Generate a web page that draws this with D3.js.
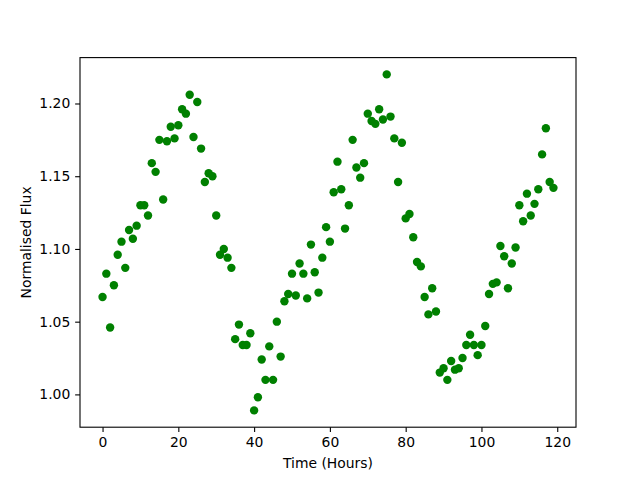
<!DOCTYPE html>
<html>
<head>
<meta charset="utf-8">
<script src="https://cdn.jsdelivr.net/npm/d3@7"></script>
<style>
  body { margin: 0; background: #fff; }
  text { font-family: "DejaVu Sans", sans-serif; }
</style>
</head>
<body>
<script>

// hours 0..119, one reading per hour
var hours = d3.range(0, 120);

var flux = [
  1.067, 1.083, 1.046, 1.075, 1.096, 1.105, 1.087, 1.113, 1.107, 1.116,
  1.130, 1.130, 1.123, 1.159, 1.153, 1.175, 1.134, 1.174, 1.184, 1.176,
  1.185, 1.196, 1.193, 1.206, 1.177, 1.201, 1.169, 1.146, 1.152, 1.150,
  1.123, 1.096, 1.100, 1.094, 1.087, 1.038, 1.048, 1.034, 1.034, 1.042,
  0.989, 0.998, 1.024, 1.010, 1.033, 1.010, 1.050, 1.026, 1.064, 1.069,
  1.083, 1.068, 1.090, 1.083, 1.066, 1.103, 1.084, 1.070, 1.094, 1.115,
  1.105, 1.139, 1.160, 1.141, 1.114, 1.130, 1.175, 1.156, 1.149, 1.159,
  1.193, 1.188, 1.186, 1.196, 1.189, 1.220, 1.191, 1.176, 1.146, 1.173,
  1.121, 1.124, 1.108, 1.091, 1.088, 1.067, 1.055, 1.073, 1.057, 1.015,
  1.018, 1.010, 1.023, 1.017, 1.018, 1.025, 1.034, 1.041, 1.034, 1.027,
  1.034, 1.047, 1.069, 1.076, 1.077, 1.102, 1.095, 1.073, 1.090, 1.101,
  1.130, 1.119, 1.138, 1.123, 1.131, 1.141, 1.165, 1.183, 1.146, 1.142
];

var xTicks = [0, 20, 40, 60, 80, 100, 120];
var yTicks = [1.00, 1.05, 1.10, 1.15, 1.20];

var margin = { top: 57.6, right: 64, bottom: 52.8, left: 80 },
    outerWidth = 640,
    outerHeight = 480,
    width = outerWidth - margin.left - margin.right,
    height = outerHeight - margin.top - margin.bottom;

var svg = d3.select("body").append("svg").attr("width", outerWidth).attr("height", outerHeight);
var g = svg.append("g").attr("transform", "translate(" + margin.left + "," + margin.top + ")");

// matplotlib style 5% padding round the data
function padded(ext) {
  var p = (ext[1] - ext[0]) * 0.05;
  return [ext[0] - p, ext[1] + p];
}

var x = d3.scaleLinear().domain(padded(d3.extent(hours))).range([0, width]);
var y = d3.scaleLinear().domain(padded(d3.extent(flux))).range([height, 0]);

var tick = 4.86;

var xAxis = d3.axisBottom(x).tickValues(xTicks).tickSize(tick).tickPadding(tick).tickFormat(d3.format("d"));
var yAxis = d3.axisLeft(y).tickValues(yTicks).tickSize(tick).tickPadding(tick).tickFormat(d3.format(".2f"));

g.selectAll("circle")
  .data(hours)
  .enter().append("circle")
  .attr("cx", function (d) { return x(d); })
  .attr("cy", function (d, i) { return y(flux[i]); })
  .attr("r", 4.2)
  .attr("fill", "#008000");

var xg = g.append("g").attr("transform", "translate(0," + height + ")").call(xAxis);
var yg = g.append("g").call(yAxis);

[xg, yg].forEach(function (a) {
  a.select(".domain").remove();
  a.selectAll("line").attr("stroke", "#000").attr("stroke-width", 1.1);
  a.selectAll("text").attr("font-size", "13.9px").attr("fill", "#000").attr("font-family", "DejaVu Sans");
});

// frame
g.append("rect")
  .attr("width", width).attr("height", height)
  .attr("fill", "none").attr("stroke", "#000").attr("stroke-width", 1.1);

svg.append("text")
  .attr("x", margin.left + width / 2)
  .attr("y", 468)
  .attr("text-anchor", "middle")
  .attr("font-size", "13.9px")
  .text("Time (Hours)");

svg.append("text")
  .attr("transform", "translate(31," + (margin.top + height / 2) + ") rotate(-90)")
  .attr("text-anchor", "middle")
  .attr("font-size", "13.9px")
  .text("Normalised Flux");

</script>
</body>
</html>
